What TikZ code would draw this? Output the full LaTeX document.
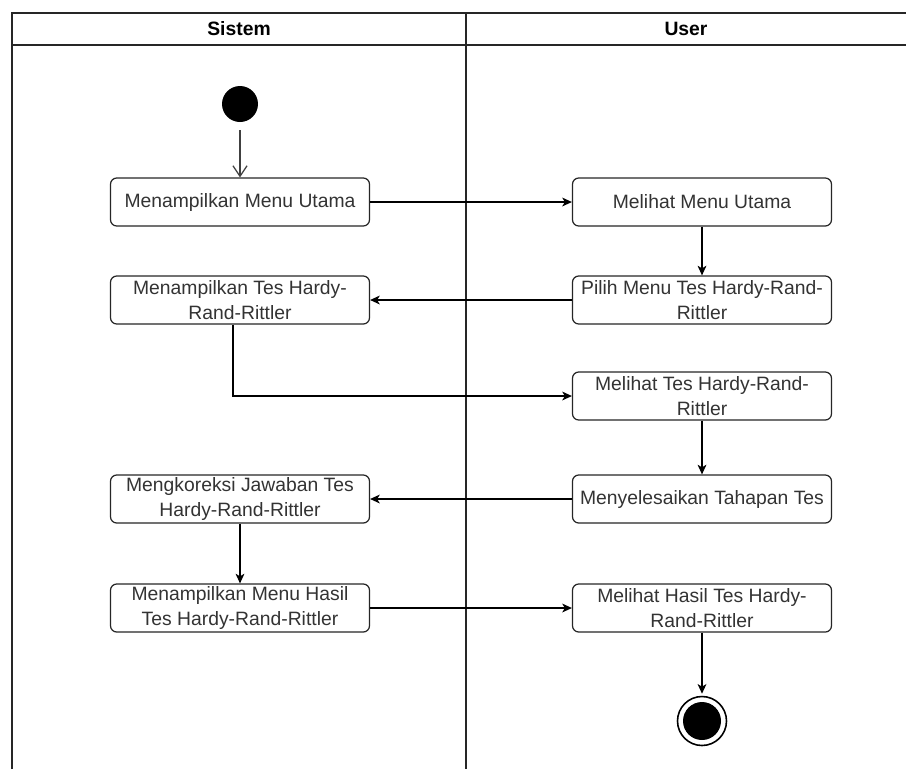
\documentclass[tikz,border=0pt]{standalone}
\usepackage{fontspec}
\setmainfont{Liberation Sans}
\usepackage{xcolor}
\usepackage{tikz}
\usetikzlibrary{arrows.meta,positioning}
\definecolor{ink}{HTML}{333333}
\tikzset{act/.style={rectangle,draw=black!85,fill=white,rounded corners=3.5pt,line width=0.7pt,minimum width=5.18cm,minimum height=0.96cm,inner sep=1pt,align=center,text=ink,font=\fontsize{11}{14}\selectfont}}
\tikzset{ini/.style={circle,fill=black,minimum size=0.72cm,inner sep=0pt}}
\tikzset{fin/.style={circle,draw=black,line width=0.9pt,fill=white,minimum size=0.98cm,inner sep=0pt,path picture={\fill[black] (path picture bounding box.center) circle (0.38cm);}}}
\tikzset{lane/.style={font=\bfseries\fontsize{11}{13}\selectfont,text=black}}

\begin{document}
\begin{tikzpicture}[x=0.02cm,y=-0.02cm,>={Stealth[length=5.5pt,width=5pt,inset=1.5pt]}]
        \useasboundingbox (0,0) rectangle (906,769);
        % swimlanes
        \draw [line width=1.1pt,black!85] (12,769) -- (12,13) -- (906,13);
        \draw [line width=1.1pt,black!85] (12,45) -- (906,45);
        \draw [line width=1.1pt,black!85] (466,13) -- (466,769);
        \node[lane] (ls) at (239,29) {Sistem};
        \node[lane] (lu) at (686,29) {User};

        \node[ini] (s) at (240,104) {};
        \node[act] (b1) at (240,202) {Menampilkan Menu Utama};
        \node[act] (b2) at (702,202) {Melihat Menu Utama};
        \node[act] (b3) at (702,300) {Pilih Menu Tes Hardy-Rand-\\Rittler};
        \node[act] (b4) at (240,300) {Menampilkan Tes Hardy-\\Rand-Rittler};
        \node[act] (b5) at (702,396) {Melihat Tes Hardy-Rand-\\Rittler};
        \node[act] (b6) at (702,499) {Menyelesaikan Tahapan Tes};
        \node[act] (b7) at (240,499) {Mengkoreksi Jawaban Tes\\Hardy-Rand-Rittler};
        \node[act] (b8) at (240,608) {Menampilkan Menu Hasil\\Tes Hardy-Rand-Rittler};
        \node[act] (b9) at (702,608) {Melihat Hasil Tes Hardy-\\Rand-Rittler};
        \node[fin] (e) at (702,721) {};

        \draw [-{Straight Barb[length=6pt,width=8pt]},black!75,line width=0.7pt,shorten <=0.16cm] (s) to (b1);
        \draw [->,line width=0.8pt] (b1) to (b2);
        \draw [->,line width=0.8pt] (b2) to (b3);
        \draw [->,line width=0.8pt] (b3) to (b4);
        \draw [->,line width=0.8pt] ([xshift=-0.14cm]b4.south) |- (b5);
        \draw [->,line width=0.8pt] (b5) to (b6);
        \draw [->,line width=0.8pt] (b6) to (b7);
        \draw [->,line width=0.8pt] (b7) to (b8);
        \draw [->,line width=0.8pt] (b8) to (b9);
        \draw [->,line width=0.8pt,shorten >=0.04cm] (b9) to (e);
    \end{tikzpicture}
\end{document}
